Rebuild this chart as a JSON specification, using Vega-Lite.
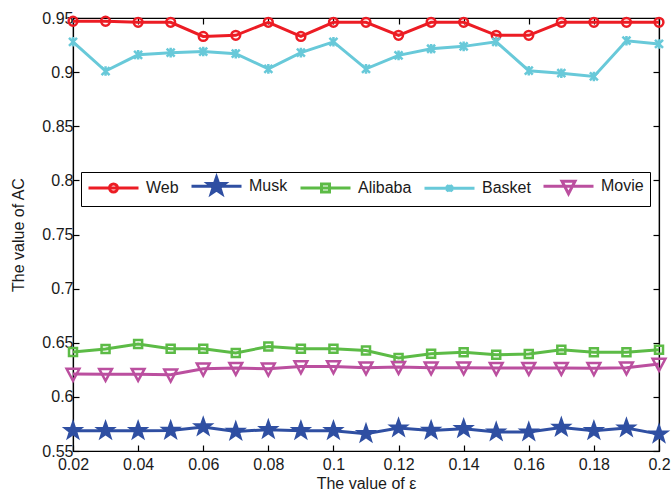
{
  "$schema": "https://vega.github.io/schema/vega-lite/v6.json",
  "width": 586,
  "height": 433,
  "autosize": {"type": "none"},
  "padding": {"left": 73, "top": 18, "right": 12, "bottom": 43},
  "background": "white",
  "config": {
    "view": {"stroke": "black", "strokeWidth": 1.2},
    "font": "Liberation Sans",
    "axis": {
      "domainColor": "black", "domainWidth": 1.2, "tickColor": "black", "tickWidth": 1.2,
      "tickSize": -6, "grid": false, "labelFlush": false, "labelFont": "Liberation Sans", "labelFontSize": 16,
      "labelColor": "#1a1a1a", "titleFont": "Liberation Sans", "titleFontSize": 16,
      "titleFontWeight": "normal", "titleColor": "#1a1a1a"
    },
    "legend": {
      "orient": "none", "legendX": 8, "legendY": 154, "direction": "horizontal", "columns": 5,
      "strokeColor": "black", "fillColor": "white", "padding": 6, "columnPadding": 6,
      "labelFont": "Liberation Sans", "labelFontSize": 16, "labelColor": "#1a1a1a",
      "symbolSize": 100, "symbolStrokeWidth": 3, "symbolOffset": 18.5, "labelOffset": 24.5
    }
  },
  "data": {"values": [
    {"e":0.02,"s":"Web","v":0.947},{"e":0.03,"s":"Web","v":0.947},{"e":0.04,"s":"Web","v":0.946},{"e":0.05,"s":"Web","v":0.946},{"e":0.06,"s":"Web","v":0.933},{"e":0.07,"s":"Web","v":0.934},{"e":0.08,"s":"Web","v":0.946},{"e":0.09,"s":"Web","v":0.933},{"e":0.1,"s":"Web","v":0.946},{"e":0.11,"s":"Web","v":0.946},{"e":0.12,"s":"Web","v":0.934},{"e":0.13,"s":"Web","v":0.946},{"e":0.14,"s":"Web","v":0.946},{"e":0.15,"s":"Web","v":0.934},{"e":0.16,"s":"Web","v":0.934},{"e":0.17,"s":"Web","v":0.946},{"e":0.18,"s":"Web","v":0.946},{"e":0.19,"s":"Web","v":0.946},{"e":0.2,"s":"Web","v":0.946},
    {"e":0.02,"s":"Musk","v":0.5687},{"e":0.03,"s":"Musk","v":0.5687},{"e":0.04,"s":"Musk","v":0.5687},{"e":0.05,"s":"Musk","v":0.569},{"e":0.06,"s":"Musk","v":0.5722},{"e":0.07,"s":"Musk","v":0.5681},{"e":0.08,"s":"Musk","v":0.5697},{"e":0.09,"s":"Musk","v":0.5687},{"e":0.1,"s":"Musk","v":0.5687},{"e":0.11,"s":"Musk","v":0.566},{"e":0.12,"s":"Musk","v":0.5712},{"e":0.13,"s":"Musk","v":0.569},{"e":0.14,"s":"Musk","v":0.5706},{"e":0.15,"s":"Musk","v":0.5675},{"e":0.16,"s":"Musk","v":0.5675},{"e":0.17,"s":"Musk","v":0.5718},{"e":0.18,"s":"Musk","v":0.5687},{"e":0.19,"s":"Musk","v":0.5712},{"e":0.2,"s":"Musk","v":0.5656},
    {"e":0.02,"s":"Alibaba","v":0.6414},{"e":0.03,"s":"Alibaba","v":0.6442},{"e":0.04,"s":"Alibaba","v":0.6488},{"e":0.05,"s":"Alibaba","v":0.6445},{"e":0.06,"s":"Alibaba","v":0.6445},{"e":0.07,"s":"Alibaba","v":0.6405},{"e":0.08,"s":"Alibaba","v":0.6466},{"e":0.09,"s":"Alibaba","v":0.6445},{"e":0.1,"s":"Alibaba","v":0.6445},{"e":0.11,"s":"Alibaba","v":0.6429},{"e":0.12,"s":"Alibaba","v":0.6359},{"e":0.13,"s":"Alibaba","v":0.6399},{"e":0.14,"s":"Alibaba","v":0.6412},{"e":0.15,"s":"Alibaba","v":0.639},{"e":0.16,"s":"Alibaba","v":0.6396},{"e":0.17,"s":"Alibaba","v":0.6436},{"e":0.18,"s":"Alibaba","v":0.6412},{"e":0.19,"s":"Alibaba","v":0.6412},{"e":0.2,"s":"Alibaba","v":0.6436},
    {"e":0.02,"s":"Basket","v":0.928},{"e":0.03,"s":"Basket","v":0.901},{"e":0.04,"s":"Basket","v":0.916},{"e":0.05,"s":"Basket","v":0.918},{"e":0.06,"s":"Basket","v":0.919},{"e":0.07,"s":"Basket","v":0.917},{"e":0.08,"s":"Basket","v":0.903},{"e":0.09,"s":"Basket","v":0.918},{"e":0.1,"s":"Basket","v":0.928},{"e":0.11,"s":"Basket","v":0.903},{"e":0.12,"s":"Basket","v":0.9155},{"e":0.13,"s":"Basket","v":0.9216},{"e":0.14,"s":"Basket","v":0.9238},{"e":0.15,"s":"Basket","v":0.928},{"e":0.16,"s":"Basket","v":0.9013},{"e":0.17,"s":"Basket","v":0.899},{"e":0.18,"s":"Basket","v":0.896},{"e":0.19,"s":"Basket","v":0.929},{"e":0.2,"s":"Basket","v":0.926},
    {"e":0.02,"s":"Movie","v":0.6211},{"e":0.03,"s":"Movie","v":0.621},{"e":0.04,"s":"Movie","v":0.621},{"e":0.05,"s":"Movie","v":0.6205},{"e":0.06,"s":"Movie","v":0.626},{"e":0.07,"s":"Movie","v":0.6266},{"e":0.08,"s":"Movie","v":0.626},{"e":0.09,"s":"Movie","v":0.628},{"e":0.1,"s":"Movie","v":0.628},{"e":0.11,"s":"Movie","v":0.627},{"e":0.12,"s":"Movie","v":0.6275},{"e":0.13,"s":"Movie","v":0.627},{"e":0.14,"s":"Movie","v":0.627},{"e":0.15,"s":"Movie","v":0.6266},{"e":0.16,"s":"Movie","v":0.6266},{"e":0.17,"s":"Movie","v":0.6266},{"e":0.18,"s":"Movie","v":0.6264},{"e":0.19,"s":"Movie","v":0.627},{"e":0.2,"s":"Movie","v":0.6304}
  ]},
  "resolve": {"scale": {"x": "independent", "y": "independent"}},
  "layer": [
    {
      "encoding": {
        "x": {"field": "e", "type": "quantitative", "title": "The value of ε",
          "scale": {"domain": [0.02, 0.2], "nice": false, "zero": false},
          "axis": {"values": [0.02,0.04,0.06,0.08,0.1,0.12,0.14,0.16,0.18,0.2], "format": "~g", "labelPadding": 11, "titlePadding": 3}},
        "y": {"field": "v", "type": "quantitative", "title": "The value of AC",
          "scale": {"domain": [0.55, 0.95], "nice": false, "zero": false},
          "axis": {"values": [0.55,0.6,0.65,0.7,0.75,0.8,0.85,0.9,0.95], "format": "~g", "labelPadding": 6, "titlePadding": 15}},
        "color": {"field": "s", "type": "nominal",
          "scale": {"domain": ["Web","Musk","Alibaba","Basket","Movie"], "range": ["#ec1c24","#2f4fa2","#5cbb46","#68c9d9","#bb4f9f"]},
          "legend": {"title": null,
            "encode": {"symbols": {"update": {
              "shape": {"signal": "datum.value === 'Web' ? 'M-5,0L5,0M0.8,0A0.8,0.8 0 1,1 -0.8,0A0.8,0.8 0 1,1 0.8,0Z' : datum.value === 'Musk' ? 'M-5,0L5,0M0,-1.8L0.42,-0.58L1.71,-0.56L0.68,0.22L1.06,1.46L0,0.72L-1.06,1.46L-0.68,0.22L-1.71,-0.56L-0.42,-0.58Z' : datum.value === 'Alibaba' ? 'M-5,0L5,0M-0.8,-0.8L0.8,-0.8L0.8,0.8L-0.8,0.8Z' : datum.value === 'Basket' ? 'M-5,0L5,0M-0.6,-0.6L0.6,0.6M-0.6,0.6L0.6,-0.6M0,-0.7L0,0.7' : 'M-5,0L5,0M-1.3,-1L1.3,-1L0,1.5Z'"},
              "fill": {"signal": "datum.value === 'Musk' ? '#2f4fa2' : 'transparent'"},
              "strokeWidth": {"value": 3}
            }}}
          }}
      },
      "layer": [
        {"mark": {"type": "line", "strokeWidth": 3}},
        {"mark": {"type": "point", "filled": false, "strokeWidth": 2.5, "size": 256, "opacity": 1},
          "encoding": {
            "shape": {"field": "s", "type": "nominal", "legend": null,
              "scale": {"domain": ["Musk","Web","Alibaba","Basket","Movie"],
                "range": [
                  "M0,-1L0.235,-0.324L0.951,-0.309L0.38,0.124L0.588,0.809L0,0.4L-0.588,0.809L-0.38,0.124L-0.951,-0.309L-0.235,-0.324Z",
                  "M0.55,0A0.55,0.55 0 1,1 -0.55,0A0.55,0.55 0 1,1 0.55,0Z",
                  "M-0.5,-0.5L0.5,-0.5L0.5,0.5L-0.5,0.5Z",
                  "M-0.5,-0.5L0.5,0.5M-0.5,0.5L0.5,-0.5M0,-0.6L0,0.6",
                  "M-0.8,-0.65L0.8,-0.65L0,0.85Z"
                ]}},
            "fill": {"condition": {"test": "datum.s === 'Musk'", "value": "#2f4fa2"}, "value": "transparent"}
          }}
      ]
    },
    {
      "mark": {"type": "point", "opacity": 0},
      "encoding": {
        "x": {"field": "e", "type": "quantitative",
          "scale": {"domain": [0.02, 0.2], "nice": false, "zero": false},
          "axis": {"orient": "top", "values": [0.02,0.04,0.06,0.08,0.1,0.12,0.14,0.16,0.18,0.2], "labels": false, "title": null}},
        "y": {"field": "v", "type": "quantitative",
          "scale": {"domain": [0.55, 0.95], "nice": false, "zero": false},
          "axis": {"orient": "right", "values": [0.55,0.6,0.65,0.7,0.75,0.8,0.85,0.9,0.95], "labels": false, "title": null}}
      }
    }
  ]
}
